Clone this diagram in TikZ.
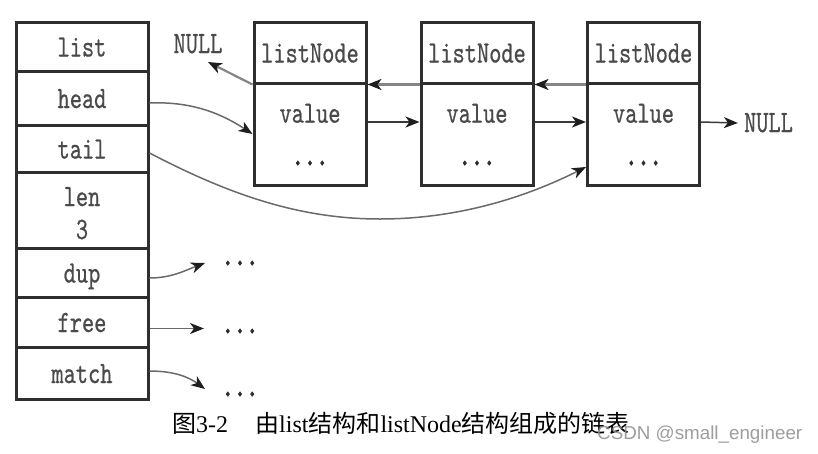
\documentclass[tikz,border=0pt]{standalone}
\usepackage{fontspec}
\setmainfont{Liberation Serif}
\newfontfamily\cjk{Noto Sans CJK SC}
\newfontfamily\wmfont{Liberation Sans}
\newfontfamily\cellmono{lmmono10-regular}[Extension=.otf,FakeStretch=0.75,FakeBold=0.6]
\newfontfamily\dotmono{lmmono10-regular}[Extension=.otf,FakeStretch=0.75,FakeBold=3]
\usetikzlibrary{arrows.meta}
\definecolor{boxcol}{HTML}{2E2E2E}
\definecolor{txtcol}{HTML}{4A4A4A}
\definecolor{arrcol}{HTML}{3A3A3A}
\definecolor{backcol}{HTML}{858585}
\definecolor{curvecol}{HTML}{6A6A6A}
\definecolor{tipcol}{HTML}{1E1E1E}
\tikzset{
  monotext/.style={font=\cellmono\fontsize{31}{31}\selectfont, text=txtcol},
  dottext/.style={font=\dotmono\fontsize{31}{31}\selectfont, text=boxcol},
  cell/.style={draw=boxcol, line width=3pt, minimum width=132pt, inner sep=0pt,
    monotext, text height=21pt, text depth=1pt},
  nodebox/.style={draw=boxcol, line width=3pt, minimum width=112pt, inner sep=0pt,
    monotext, text height=21pt, text depth=1pt},
  lbl/.style={monotext, inner sep=0pt, anchor=base},
  dots/.style={dottext, inner sep=0pt, anchor=base},
  nulltext/.style={monotext, inner xsep=6pt, inner ysep=0pt, text height=18pt, text depth=0pt},
  tip/.style={-{Stealth[length=14pt,width=11pt,inset=4pt,color=tipcol]}},
  arr/.style={tip, line width=1.5pt, draw=arrcol},
  backarr/.style={tip, line width=2.2pt, draw=backcol},
  curvearr/.style={tip, line width=1.5pt, draw=curvecol},
}
\begin{document}
\begin{tikzpicture}[x=1pt,y=-1pt]
\useasboundingbox (0,0) rectangle (818,453);

% list structure
\node[cell, minimum height=49pt] (list) at (82,46.5) {list};
\node[cell, minimum height=54pt] (head) at (82,98) {head};
\node[cell, minimum height=47pt] (tail) at (82,148.5) {tail};
\node[cell, minimum height=76pt] (len) at (82,210) {};
\node[lbl] (lenA) at (82,206) {len};
\node[lbl] (lenB) at (82,239) {3};
\node[cell, minimum height=49pt] (dup) at (82,272.5) {dup};
\node[cell, minimum height=50pt] (free) at (82,322) {free};
\node[cell, minimum height=52pt] (match) at (82,373) {match};

% listNode boxes
\foreach \i/\x in {1/310, 2/477, 3/643.5}{
  \node[nodebox, minimum height=61pt] (n\i t) at (\x,52.5) {listNode};
  \node[nodebox, minimum height=102pt] (n\i b) at (\x,134) {};
  \node[lbl] (v\i) at (\x,122.7) {value};
  \node[dots] (d\i) at (\x,165) {...};
}

% NULL labels
\node[nulltext] (nullL) at (198,44) {NULL};
\node[nulltext] (nullR) at (768.5,123) {NULL};
\coordinate (nlTip) at (208,62);

% prev pointers
\draw[backarr] (n1t.south west) -- (nlTip);
\draw[backarr] (n2t.south west) -- (n1t.south east);
\draw[backarr] (n3t.south west) -- (n2t.south east);

% next pointers
\draw[arr] ([yshift=12pt]n1b.east) -- ([yshift=12pt]n2b.west);
\draw[arr] ([yshift=12pt]n2b.east) -- ([yshift=12pt]n3b.west);
\draw[arr] ([yshift=12pt]n3b.east) -- (nullR.west);

% head and tail
\draw[curvearr] ([yshift=-5pt]head.east) .. controls (195,101) and (225,116) .. (n1b.west);
\coordinate (tailmid) at (380,219);
\draw[curvearr] ([yshift=-4.5pt]tail.east) .. controls (230,195) and (300,219) .. (tailmid)
  .. controls (470,219) and (540,190) .. ([yshift=-33pt]n3b.west);

% dup, free, match
\node[dots] (dotsA) at (240,265) {...};
\node[dots] (dotsB) at (240,333) {...};
\node[dots] (dotsC) at (240,396) {...};
\coordinate (tA) at (205,263);
\coordinate (tB) at (204,328.5);
\coordinate (tC) at (205,389);
\draw[curvearr] ([yshift=-5.5pt]dup.east) .. controls (172,278) and (186,270) .. (tA);
\draw[curvearr] ([yshift=-6.5pt]free.east) -- (tB);
\draw[curvearr] ([yshift=2pt]match.east) .. controls (176,371) and (190,378) .. (tC);

% caption
\node[anchor=base west, inner sep=0pt, font=\fontsize{24}{24}\selectfont] (caption) at (172,432)
  {{\cjk 图}3-2\hspace{27pt}{\cjk 由}list{\cjk 结构和}listNode{\cjk 结构组成的链表}};
\node[anchor=base west, inner sep=0pt, font=\wmfont\fontsize{18.8}{18.8}\selectfont, text=black!45, opacity=0.85] (wm) at (597,439.5) {CSDN @small\_engineer};
\end{tikzpicture}
\end{document}
